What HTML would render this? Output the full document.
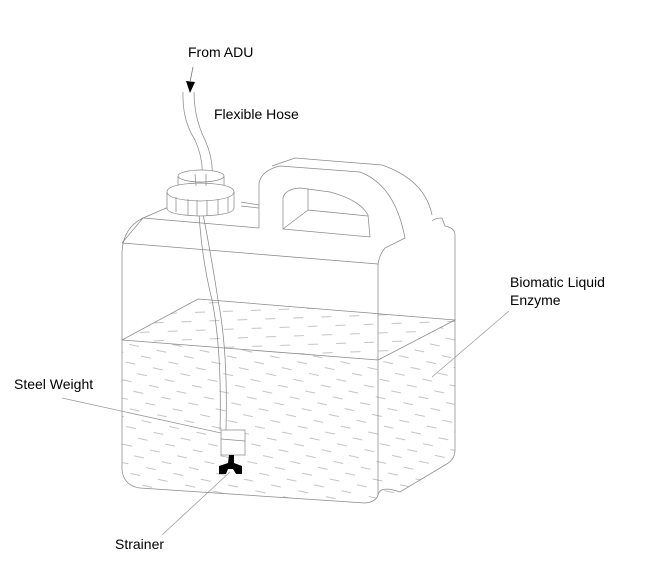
<!DOCTYPE html>
<html><head><meta charset="utf-8"><style>
html,body{margin:0;padding:0;background:#fff;}
svg{display:block}
text{font-family:"Liberation Sans",Arial,sans-serif;font-size:14px;fill:#000}
</style></head><body>
<svg width="646" height="574" viewBox="0 0 646 574" xmlns="http://www.w3.org/2000/svg">
<defs>
<pattern id="dash" width="28" height="18" patternUnits="userSpaceOnUse" patternTransform="rotate(12)">
<line x1="2" y1="4" x2="12" y2="4" stroke="#aaa" stroke-width="0.7"/>
<line x1="16" y1="13" x2="26" y2="13" stroke="#aaa" stroke-width="0.7"/>
</pattern>
<pattern id="dash2" width="28" height="18" patternUnits="userSpaceOnUse" patternTransform="rotate(-2)">
<line x1="2" y1="4" x2="12" y2="4" stroke="#aaa" stroke-width="0.7"/>
<line x1="16" y1="13" x2="26" y2="13" stroke="#aaa" stroke-width="0.7"/>
</pattern>
</defs>
<g fill="none" stroke="#8a8a8a" stroke-width="0.75">
<path d="M122,340 L378,360 L378,495 Q376,502 365,503 L140,488 Q124,486 122,470 Z" fill="url(#dash)" stroke="none"/>
<path d="M378,360 L455,320 L455,450 Q455,460 445,465 L400,492 L378,498 Z" fill="url(#dash)" stroke="none"/>
<path d="M122,340 L198,299 L455,320 L378,360 Z" fill="url(#dash2)" stroke="none"/>
<path d="M122,470 L122,252 Q123,228 143,218 L178,203"/>
<path d="M143,218 L122,243 M122,243 L378,264"/>
<path d="M122,470 Q124,486 140,488 L365,503 Q376,502 378,495 L378,264"/>
<path d="M378,495 Q380,485 400,492 L445,465 Q455,460 455,450 L455,235 Q455,228 445,226 L442,218 Q435,218 432,221"/>
<path d="M143,218 L259,228"/>
<path d="M241,202 L259,205 M241,206 L259,208"/>
<path d="M259,228 L259,183 Q262,170 280,166 L360,172 Q395,185 405,238 L385,248 Q379,255 378,265"/>
<path d="M272,166 L295,158 L382,165 Q425,180 432,215"/>
<path d="M283,229 L283,198 Q285,189 300,188 L308,189 L330,192 Q360,200 368,215 L370,237 L283,229"/>
<path d="M308,189 L308,210 L368,216 M308,210 L283,229"/>
<path d="M122,340 L198,299 L455,320 L378,360 L122,340"/>
<path d="M183,92 Q182,120 195,140 Q204,160 202,180"/>
<path d="M194,92 Q194,118 205,140 Q214,160 212,180"/>
<path d="M199,214 Q202,260 212,300 Q222,350 220,430"/>
<path d="M203,214 Q212,260 218,300 Q228,350 226,430"/>
<ellipse cx="201" cy="176" rx="23" ry="6" fill="#fff"/>
<path d="M178,176 L178,186 M224,176 L224,186"/>
<path d="M167,192 Q167,184 200,183 Q234,184 234,192 L234,208 Q234,215 200,216 Q167,215 167,208 Z" fill="#fff"/>
<path d="M167,192 Q168,200 200,201 Q233,200 234,192"/>
<path d="M176,197 L176,212 M188,199 L188,215 M197,200 L197,216 M207,200 L207,216 M218,199 L218,215 M228,197 L228,212"/>
<path d="M195,174 L196,186 M206,174 L206,186"/>
<rect x="221" y="430" width="24" height="25" fill="#fff"/>
<path d="M221,439 L245,441"/>
<path d="M62,398 L221,433" stroke="#999"/>
<path d="M162,535 L230,472" stroke="#999"/>
<path d="M509,311 L432,377" stroke="#999"/>
</g>
<path d="M229,455 L234,455 L234,463 L242,466 L242,474 L236,474 L233,469 L228,469 L226,474 L219,474 L219,466 L228,463 Z" fill="#000"/>
<path d="M190,93 L186,81 L195,82 Z" fill="#000"/>
<path d="M193,67 L190,82" stroke="#777" stroke-width="0.8"/>
<text x="188" y="57">From ADU</text>
<text x="214" y="119">Flexible Hose</text>
<text x="14" y="389">Steel Weight</text>
<text x="115" y="549">Strainer</text>
<text x="510" y="287">Biomatic Liquid</text>
<text x="510" y="305">Enzyme</text>
</svg>
</body></html>
